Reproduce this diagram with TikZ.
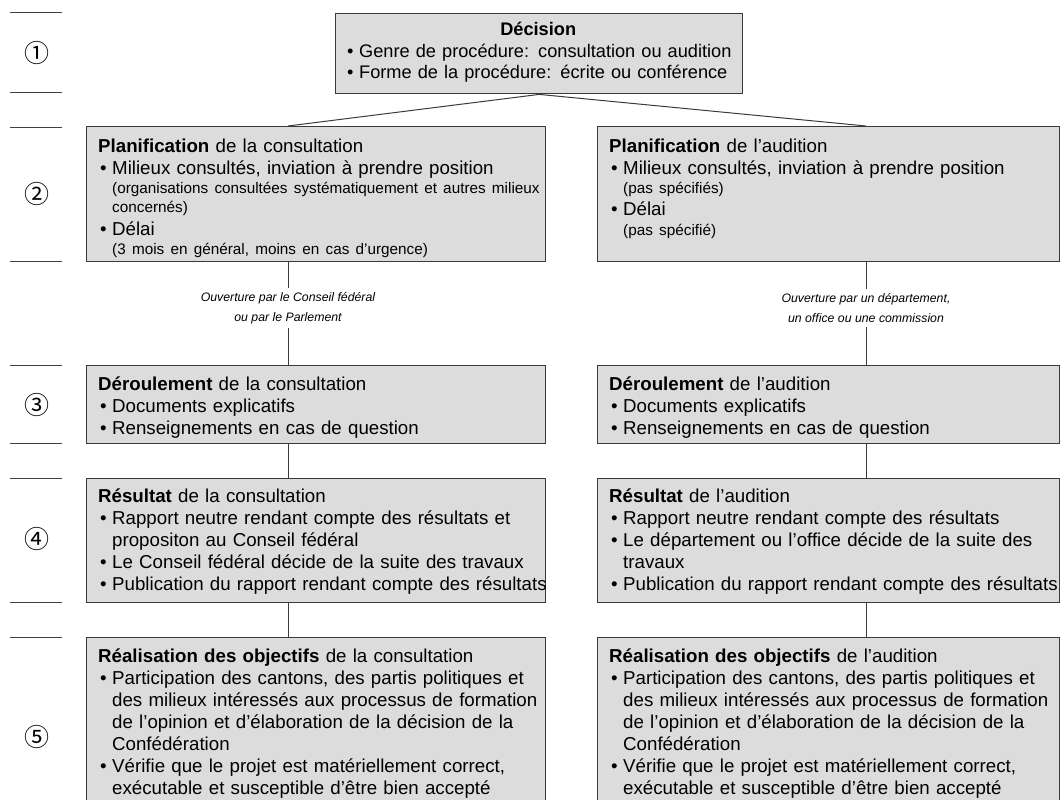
\documentclass[tikz,border=0pt]{standalone}
\usepackage{fontspec}
\setmainfont{Liberation Sans}
\newfontfamily\symfont{Noto Sans CJK JP}
\definecolor{boxfill}{HTML}{DCDCDC}
\definecolor{boxline}{HTML}{3A3A3A}
\newcommand{\mainsz}{\fontsize{18.7}{22}\selectfont\hyphenpenalty=10000\exhyphenpenalty=10000}
\newcommand{\smallsz}{\fontsize{15.3}{19.5}\selectfont}
\newcommand{\bl}{\par\hangindent=14pt\hangafter=1\noindent\makebox[14pt][l]{\hspace{2pt}\textbullet}}
\newcommand{\sm}[1]{{\par\smallsz\leftskip=14pt\noindent #1\par}}
\tikzset{
  box/.style={draw=boxline, fill=boxfill, line width=1.4pt, anchor=north west, inner sep=0pt},
  txt/.style={anchor=base west, inner sep=0pt, align=left, text width=480pt, font=\mainsz},
  lab/.style={font=\fontsize{12.3}{19.5}\selectfont\itshape, align=center, inner sep=4pt},
  conn/.style={draw=boxline, line width=1pt},
  numl/.style={draw=black!75, line width=1pt},
  num/.style={font=\symfont\fontsize{25}{25}\selectfont}
}
\begin{document}
\begin{tikzpicture}[x=1pt,y=-1pt]
\useasboundingbox (0,0) rectangle (1061,800);
\setlength{\parindent}{0pt}
% row markers
\foreach \ya in {13, 93, 127, 261, 365, 443, 478, 602, 637}{
  \draw[numl] (10,\ya) -- (62,\ya);
}
\node[num] (n1) at (37,53) {\char"2460};
\node[num] (n2) at (37,194) {\char"2461};
\node[num] (n3) at (37,405) {\char"2462};
\node[num] (n4) at (37,539) {\char"2463};
\node[num] (n5) at (37,737) {\char"2464};
% boxes
\node[box, minimum width=407pt, minimum height=80pt] (dec) at (335,13) {};
\node[box, minimum width=459pt, minimum height=135pt] (p1) at (86,126) {};
\node[box, minimum width=462pt, minimum height=135pt] (p2) at (597,126) {};
\node[box, minimum width=459pt, minimum height=78pt] (d1) at (86,365) {};
\node[box, minimum width=462pt, minimum height=78pt] (d2) at (597,365) {};
\node[box, minimum width=459pt, minimum height=124pt] (r1) at (86,478) {};
\node[box, minimum width=462pt, minimum height=124pt] (r2) at (597,478) {};
\node[box, minimum width=459pt, minimum height=180pt] (e1) at (86,637) {};
\node[box, minimum width=462pt, minimum height=180pt] (e2) at (597,637) {};
% texts
\node[txt, text width=386pt, font=\fontsize{18.2}{21.5}\selectfont] (tdec) at ([xshift=10pt,yshift=-23pt]dec.north west) {%
{\centering\textbf{Décision}\par}
\bl \mbox{Genre de procédure: consultation ou audition}
\bl \mbox{Forme de la procédure: écrite ou conférence}\par};
\node[txt] (tp1) at ([xshift=12pt,yshift=-26pt]p1.north west) {%
\textbf{Planification} de la consultation
\bl Milieux consultés, inviation à prendre position
\sm{(organisations consultées systématiquement et autres milieux\newline concernés)}
\bl Délai
\sm{(3 mois en général, moins en cas d’urgence)}};
\node[txt] (tp2) at ([xshift=12pt,yshift=-26pt]p2.north west) {%
\textbf{Planification} de l’audition
\bl Milieux consultés, inviation à prendre position
\sm{(pas spécifiés)}
\bl Délai
\sm{(pas spécifié)}};
\node[txt] (td1) at ([xshift=12pt,yshift=-25pt]d1.north west) {%
\textbf{Déroulement} de la consultation
\bl Documents explicatifs
\bl Renseignements en cas de question\par};
\node[txt] (td2) at ([xshift=12pt,yshift=-25pt]d2.north west) {%
\textbf{Déroulement} de l’audition
\bl Documents explicatifs
\bl Renseignements en cas de question\par};
\node[txt] (tr1) at ([xshift=12pt,yshift=-24pt]r1.north west) {%
\textbf{Résultat} de la consultation
\bl Rapport neutre rendant compte des résultats et\newline propositon au Conseil fédéral
\bl Le Conseil fédéral décide de la suite des travaux
\bl Publication du rapport rendant compte des résultats\par};
\node[txt] (tr2) at ([xshift=12pt,yshift=-24pt]r2.north west) {%
\textbf{Résultat} de l’audition
\bl Rapport neutre rendant compte des résultats
\bl Le département ou l’office décide de la suite des\newline travaux
\bl Publication du rapport rendant compte des résultats\par};
\node[txt] (te1) at ([xshift=12pt,yshift=-25pt]e1.north west) {%
\textbf{Réalisation des objectifs} de la consultation
\bl Participation des cantons, des partis politiques et\newline des milieux intéressés aux processus de formation\newline de l’opinion et d’élaboration de la décision de la\newline Confédération
\bl Vérifie que le projet est matériellement correct,\newline exécutable et susceptible d’être bien accepté\par};
\node[txt] (te2) at ([xshift=12pt,yshift=-25pt]e2.north west) {%
\textbf{Réalisation des objectifs} de l’audition
\bl Participation des cantons, des partis politiques et\newline des milieux intéressés aux processus de formation\newline de l’opinion et d’élaboration de la décision de la\newline Confédération
\bl Vérifie que le projet est matériellement correct,\newline exécutable et susceptible d’être bien accepté\par};
% connectors
\coordinate (c1) at (288,0);
\coordinate (c2) at (866,0);
\node[lab] (l1) at (288,308) {Ouverture par le Conseil fédéral\\ou par le Parlement};
\node[lab] (l2) at (866,308) {Ouverture par un département,\\un office ou une commission};
\draw[conn] (dec.south) -- (c1 |- p1.north);
\draw[conn] (dec.south) -- (c2 |- p2.north);
\draw[conn] (c1 |- p1.south) -- (l1.north);
\draw[conn] (l1.south) -- (c1 |- d1.north);
\draw[conn] (c2 |- p2.south) -- (l2.north);
\draw[conn] (l2.south) -- (c2 |- d2.north);
\draw[conn] (c1 |- d1.south) -- (c1 |- r1.north);
\draw[conn] (c2 |- d2.south) -- (c2 |- r2.north);
\draw[conn] (c1 |- r1.south) -- (c1 |- e1.north);
\draw[conn] (c2 |- r2.south) -- (c2 |- e2.north);
\end{tikzpicture}
\end{document}
